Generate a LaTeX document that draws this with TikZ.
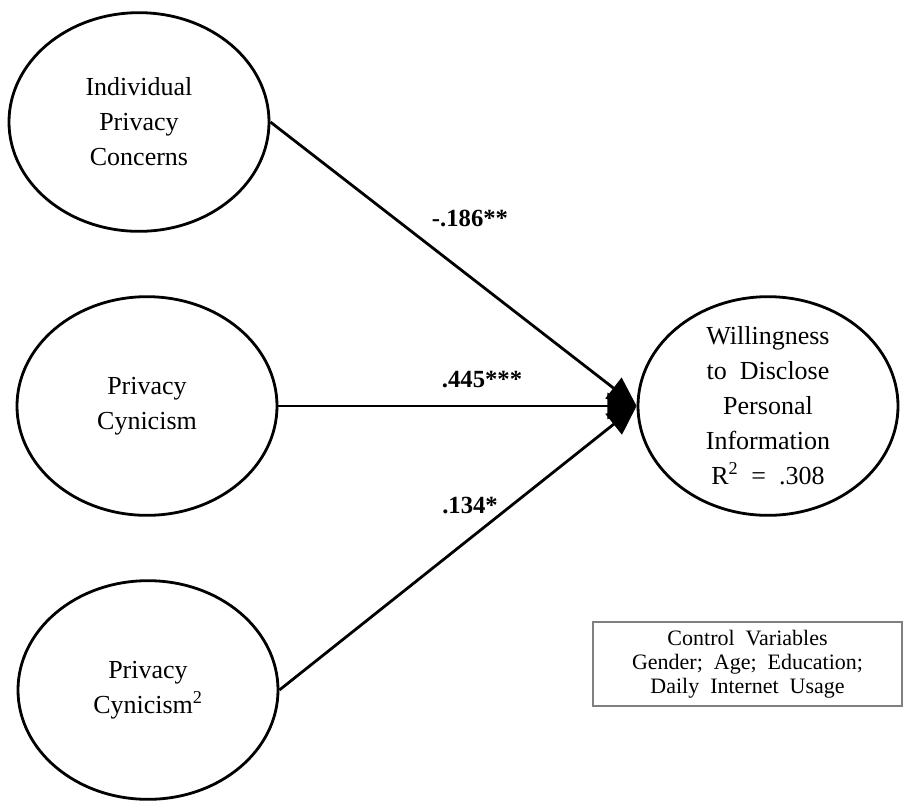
\documentclass[tikz,border=0pt]{standalone}
\usepackage{fontspec}
\setmainfont{Liberation Serif}
\usetikzlibrary{shapes.geometric,arrows.meta}

\tikzset{
    latent/.style={draw, ellipse, line width=2.1pt, minimum width=195pt,
        minimum height=164pt, inner sep=0pt, align=center,
        font=\fontsize{19.5}{26.3}\selectfont},
    effect/.style={line width=2.1pt, -{Triangle[length=22pt,width=19.5pt]}},
    coef/.style={font=\fontsize{18.5}{22}\selectfont\bfseries},
    ctrlbox/.style={draw=black!50, line width=1.5pt, minimum width=231.75pt,
        minimum height=63pt, align=center,
        font=\fontsize{16.5}{18}\selectfont}
}

\begin{document}
\begin{tikzpicture}[x=0.75pt,y=-0.75pt]
    \useasboundingbox (0,0) rectangle (918,801);
    \node[latent] (ipc) at (139,122) {Individual\\Privacy\\Concerns};
    \node[latent] (cyn) at (147,406) {Privacy\\Cynicism};
    \node[latent] (cynsq) at (148,690) {Privacy\\Cynicism\textsuperscript{2}};
    \node[latent, inner ysep=-8pt] (wtd) at (768,406)
        {Willingness\\to\ \ Disclose\\Personal\\Information\\R\textsuperscript{2}\ \ =\ \ .308};
    \draw[effect] (ipc.east) -- (wtd.west);
    \draw[effect] (cyn.east) -- (wtd.west);
    \draw[effect] (cynsq.east) -- (wtd.west);
    \node[coef] (b1) at (470,218) {-.186**};
    \node[coef] (b2) at (482,380) {.445***};
    \node[coef] (b3) at (470,505) {.134*};
    \node[ctrlbox] (ctrl) at (747.5,664)
        {Control\ \ Variables\\Gender;\ \ Age;\ \ Education;\\Daily\ \ Internet\ \ Usage};
\end{tikzpicture}
\end{document}
